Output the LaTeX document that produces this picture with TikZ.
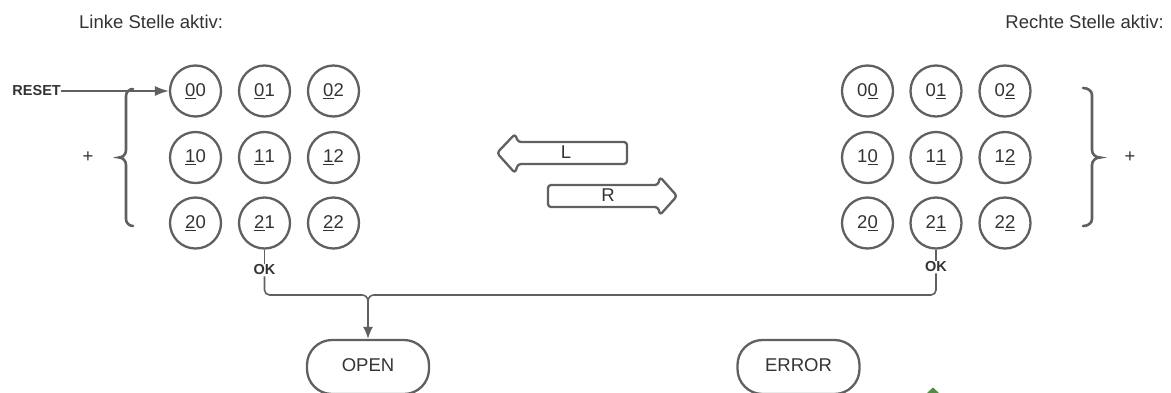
\documentclass[tikz,border=0pt]{standalone}
\usepackage{fontspec}
\setmainfont{Liberation Sans}
\usetikzlibrary{arrows.meta}
\definecolor{ln}{HTML}{606060}
\definecolor{tx}{HTML}{333333}
\definecolor{gr}{HTML}{4E8F3E}
\begin{document}
\begin{tikzpicture}[x=1pt,y=-1pt, font=\fontsize{18.5}{21}\selectfont, text=tx,
 state/.style={circle,draw=ln,line width=2.3pt,minimum size=51pt,inner sep=0pt},
 conn/.style={draw=ln,line width=1.6pt},
 brace/.style={draw=ln,line width=2.6pt,line cap=round},
 blk/.style={draw=ln,line width=2.3pt,rounded corners=3pt,line join=round},
 lab/.style={font=\bfseries\fontsize{14.5}{16}\selectfont,inner sep=1pt},
 term/.style={draw=ln,line width=2.3pt,rounded corners=25pt,minimum width=122pt,minimum height=54pt},
 tip/.style={-{Latex[length=12pt,width=10pt]}}]
\useasboundingbox (0,0) rectangle (1171,392);

\node[anchor=west,inner sep=0pt] (tl) at (79,22) {Linke Stelle aktiv:};
\node[anchor=east,inner sep=0pt] (tr) at (1164,22) {Rechte Stelle aktiv:};

% left grid (first digit underlined)
\foreach \r/\y in {0/91,1/157.5,2/223}{
  \foreach \c/\x in {0/195.5,1/264.5,2/333.5}{
    \node[state] (L\r\c) at (\x,\y) {\underline{\r}\c};
  }
}
% right grid (second digit underlined)
\foreach \r/\y in {0/91,1/157.5,2/223}{
  \foreach \c/\x in {0/867.5,1/936,2/1005}{
    \node[state] (R\r\c) at (\x,\y) {\r\underline{\c}};
  }
}

% reset
\node[lab,anchor=east,inner sep=0pt] (reset) at (61,91) {RESET};
\draw[conn,-{Latex[length=14pt,width=10pt]}] (reset.east) -- (L00.west);

% braces
\draw[brace] (133,89) to[out=180,in=90] (126,96) -- (126,150) to[out=-90,in=0] (119,157.5)
  to[out=0,in=90] (126,165) -- (126,219) to[out=-90,in=180] (133,226);
\draw[brace] (1083,88) to[out=0,in=90] (1092,95) -- (1092,150) to[out=-90,in=180] (1100,157.5)
  to[out=180,in=90] (1092,165) -- (1092,219) to[out=-90,in=0] (1083,226);
\node (pl) at (88,157.5) {+};
\node (pr) at (1130,157.5) {+};

% block arrows
\draw[blk] (627,142) -- (518,142) -- (515,134) -- (497,153) -- (515,173) -- (518,164) -- (627,164) -- cycle;
\node (lL) at (566,152) {L};
\draw[blk] (548,185) -- (658,185) -- (660,177) -- (677,196) -- (660,215) -- (658,207) -- (548,207) -- cycle;
\node (lR) at (608,195) {R};

% OK connectors
\node[lab,fill=white] (okl) at (264.5,270) {OK};
\node[lab,fill=white] (okr) at (936,267) {OK};
\coordinate (jn) at (368,301);
\draw[conn] (L21.south) -- (okl.north);
\draw[conn] (R21.south) -- (okr.north);
\draw[conn] (okl.south) -- (264.5,290) to[out=-90,in=180] (269.5,295) -- (362,295) to[out=0,in=90] (jn);
\draw[conn] (okr.south) -- (936,290) to[out=-90,in=0] (931,295) -- (374,295) to[out=180,in=90] (jn);

% terminals
\node[term] (open) at (368,367) {};
\node (opent) at (368,365) {OPEN};
\node[term] (error) at (798.5,367) {};
\node (errort) at (798.5,365) {ERROR};
\draw[conn,tip] (jn) -- (open.north);

% partially visible green shape
\fill[gr] (927,393) -- (933,387.5) -- (939,393) -- cycle;
\end{tikzpicture}
\end{document}
